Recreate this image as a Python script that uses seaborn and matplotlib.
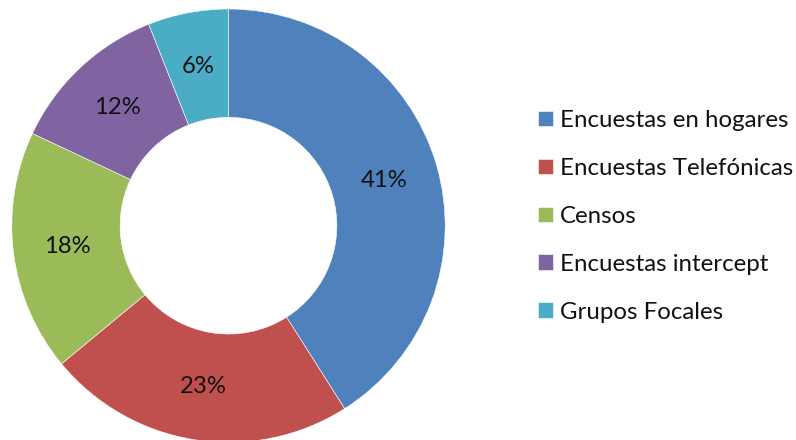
import matplotlib
matplotlib.use("Agg")
import matplotlib.pyplot as plt
import seaborn as sns

# Survey method shares (percent)
categories = ["Encuestas en hogares", "Encuestas Telefónicas", "Censos",
              "Encuestas intercept", "Grupos Focales"]
shares = [41, 23, 18, 12, 6]
colors = ["#4F81BD", "#C0504D", "#9BBB59", "#8064A2", "#4BACC6"]

sns.set_theme(style="white")
plt.rcParams["font.family"] = ["Lato", "DejaVu Sans"]

W, H = 796, 440
fig = plt.figure(figsize=(W / 100, H / 100), dpi=100)
fig.patch.set_facecolor("white")

# square axes holding the donut, positioned in pixel terms
cx, cy, r = 228.5, H - 225.7, 216.7
ax = fig.add_axes([(cx - r) / W, (cy - r) / H, 2 * r / W, 2 * r / H])

palette = sns.color_palette(colors)
wedges, _, autotexts = ax.pie(
    shares,
    colors=palette,
    startangle=90,
    counterclock=False,
    radius=1.0,
    autopct="%1.0f%%",
    pctdistance=0.75,
    wedgeprops=dict(width=0.5, edgecolor="white", linewidth=0.4),
    textprops=dict(fontsize=17.2, color="#111111"),
)
ax.set_xlim(-1, 1)
ax.set_ylim(-1, 1)
ax.set_aspect("equal")
ax.axis("off")

leg = fig.legend(
    wedges, categories,
    loc="upper left",
    bbox_to_anchor=(538 / W, 1 - 110 / H),
    frameon=False,
    fontsize=17.3,
    handlelength=0.63,
    handleheight=0.63,
    handletextpad=0.3,
    labelspacing=1.12,
    borderpad=0,
    borderaxespad=0,
)
for t in leg.get_texts():
    t.set_color("#111111")

fig.savefig("out.png", dpi=100, facecolor="white")
